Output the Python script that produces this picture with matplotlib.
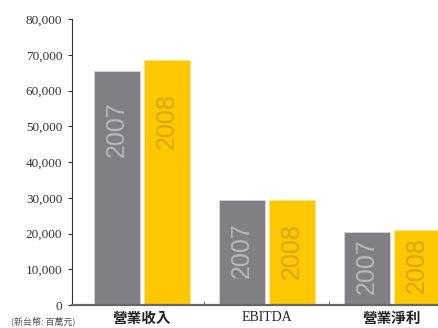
import matplotlib.pyplot as plt
import numpy as np

# datos (NT$ millones)
categories = ["營業收入", "EBITDA", "營業淨利"]
values_2007 = [65500, 29500, 20400]
values_2008 = [68600, 29300, 21000]
years = ["2007", "2008"]
label_frac = [0.75, 0.52, 0.53]
yticks = [0, 10000, 20000, 30000, 40000, 50000, 60000, 70000, 80000]

gray = "#808084"
yellow = "#fdc800"

fig = plt.figure(figsize=(4.39, 3.28), dpi=100)
ax = fig.add_axes([0.164, 0.070, 0.836, 0.872])

x = np.arange(len(categories))
w = 0.37
b1 = ax.bar(x - 0.2, values_2007, w, color=gray, edgecolor="#d8d8d8", linewidth=0.6)
b2 = ax.bar(x + 0.2, values_2008, w, color=yellow, edgecolor="#ffe680", linewidth=0.6)

for i in range(len(categories)):
    ax.text(x[i] - 0.2, values_2007[i] * label_frac[i], years[0], rotation=90,
            ha="center", va="center", fontsize=18, color="#b8b8bc",
            family="Liberation Sans")
    ax.text(x[i] + 0.2, values_2008[i] * label_frac[i], years[1], rotation=90,
            ha="center", va="center", fontsize=18, color="#d8a600",
            family="Liberation Sans")

ax.set_xlim(-0.56, 2.376)
ax.set_ylim(0, 80000)
ax.set_yticks(yticks)
ax.set_yticklabels([f"{v:,}" for v in yticks], family="Liberation Serif",
                   fontsize=9.5, color="#333333")
ax.tick_params(axis="y", length=3, width=0.8, pad=4, color="#333333")

ax.set_xticks(x)
ax.set_xticklabels([])
ax.set_xticks([0.5, 1.5], minor=True)
ax.tick_params(axis="x", which="major", length=0)
ax.tick_params(axis="x", which="minor", length=3, direction="in", color="#555555")

for i, c in enumerate(categories):
    if c == "EBITDA":
        ax.text(x[i], -1700, c, ha="center", va="top", fontsize=10,
                family="Liberation Serif", color="#222222")
    else:
        ax.text(x[i], -1300, c, ha="center", va="top", fontsize=10.5,
                family=["Noto Sans CJK TC", "DejaVu Sans"], fontweight="bold",
                color="#222222")

fig.text(0.025, 0.012, "(新台幣: 百萬元)", fontsize=6.5, color="#555555",
         family=["Noto Sans CJK TC", "DejaVu Sans"])

for s in ["top", "right"]:
    ax.spines[s].set_visible(False)
ax.spines["left"].set_color("#333333")
ax.spines["left"].set_linewidth(0.8)
ax.spines["bottom"].set_color("#666666")
ax.spines["bottom"].set_linewidth(1.6)

fig.savefig("out.png", dpi=100)
